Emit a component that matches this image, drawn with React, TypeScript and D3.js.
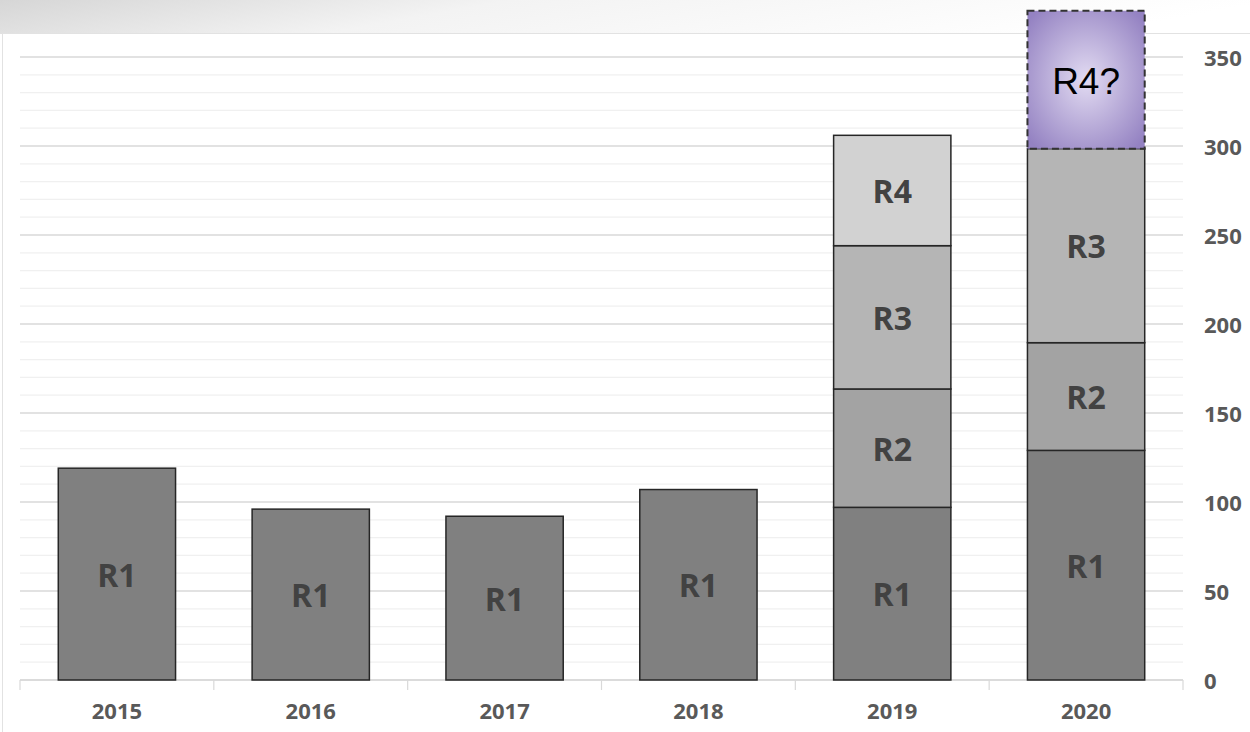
import React from "react";
import * as d3 from "d3";

const years = ["2015", "2016", "2017", "2018", "2019", "2020"];
const seriesKeys = ["R1", "R2", "R3", "R4"];
const r1 = [119, 96, 92, 107, 97, 129];
const r2 = [0, 0, 0, 0, 66.5, 60.5];
const r3 = [0, 0, 0, 0, 80.5, 109];
const r4 = [0, 0, 0, 0, 62, 0];
const forecastYear = "2020";
const forecastLabel = "R4?";
const forecastValue = 77.5;
const yTicks = [0, 50, 100, 150, 200, 250, 300, 350];
const minorStep = 10;

const colors: Record<string, string> = {
  R1: "#808080",
  R2: "#a3a3a3",
  R3: "#b5b5b5",
  R4: "#d2d2d2",
};

export default function App() {
  const W = 1250;
  const H = 732;
  const x0 = 20;
  const x1 = 1183;
  const x = d3.scaleBand<string>().domain(years).range([x0, x1]).paddingInner(0.395).paddingOuter(0.1975);
  const y = d3.scaleLinear().domain([0, 350]).range([680, 57]);

  const rows = years.map((yr, i) => ({ year: yr, R1: r1[i], R2: r2[i], R3: r3[i], R4: r4[i] }));
  const stack = d3.stack<any>().keys(seriesKeys)(rows);

  const minor = d3.range(0, 350 + 0.001, minorStep);
  const step = x.step();
  const boundaries = d3.range(0, years.length + 1).map((i) => x0 + i * step);

  const fcBase = (() => {
    const i = years.indexOf(forecastYear);
    return r1[i] + r2[i] + r3[i] + r4[i];
  })();

  const font = "'Open Sans', 'Liberation Sans', sans-serif";

  return (
    <svg width={W} height={H} style={{ position: "absolute", left: 0, top: 0 }}>
      <defs>
        <linearGradient id="band" x1="0" y1="0" x2="1" y2="0.15">
          <stop offset="0" stopColor="#d6d6d6" />
          <stop offset="0.4" stopColor="#f3f3f3" />
          <stop offset="1" stopColor="#ffffff" />
        </linearGradient>
        <radialGradient id="purple" cx="0.5" cy="0.5" r="0.65">
          <stop offset="0" stopColor="#e2dbf2" />
          <stop offset="1" stopColor="#9482c2" />
        </radialGradient>
      </defs>
      <rect x={0} y={0} width={W} height={H} fill="#ffffff" />
      <rect x={0} y={0} width={W} height={34} fill="url(#band)" />
      <rect x={2.5} y={33.5} width={W} height={H} fill="#ffffff" stroke="#e2e2e2" strokeWidth={1} />

      {minor.map((v) => (
        <line key={"m" + v} x1={x0} x2={x1} y1={y(v)} y2={y(v)}
          stroke={v % 50 === 0 ? "#d9d9d9" : "#f0f0f0"} strokeWidth={v % 50 === 0 ? 1.3 : 1.2} />
      ))}

      <line x1={x0} x2={x1} y1={y(0)} y2={y(0)} stroke="#d9d9d9" strokeWidth={1.5} />
      {boundaries.map((bx, i) => (
        <line key={"t" + i} x1={bx} x2={bx} y1={y(0)} y2={y(0) + 10} stroke="#d9d9d9" strokeWidth={1.2} />
      ))}

      {stack.map((s) => (
        <g key={s.key}>
          {s.map((d: any, i: number) => {
            const h = d[1] - d[0];
            if (h <= 0) return null;
            const bx = x(years[i])!;
            const top = y(d[1]);
            const bot = y(d[0]);
            return (
              <g key={i}>
                <rect x={bx} y={top} width={x.bandwidth()} height={bot - top}
                  fill={colors[s.key]} stroke="#262626" strokeWidth={1.5} />
                <text x={bx + x.bandwidth() / 2} y={(top + bot) / 2} textAnchor="middle"
                  dominantBaseline="central" fontFamily={font} fontWeight={700} fontSize={32} fill="#424242">
                  {s.key}
                </text>
              </g>
            );
          })}
        </g>
      ))}

      {(() => {
        const bx = x(forecastYear)!;
        const top = y(fcBase + forecastValue);
        const bot = y(fcBase);
        return (
          <g>
            <rect x={bx} y={top} width={x.bandwidth()} height={bot - top}
              fill="url(#purple)" stroke="#333333" strokeWidth={2} strokeDasharray="7,4" />
            <text x={bx + x.bandwidth() / 2} y={(top + bot) / 2 + 2} textAnchor="middle"
              dominantBaseline="central" fontFamily="'Liberation Sans', Arial, sans-serif" fontSize={37} fill="#000000">
              {forecastLabel}
            </text>
          </g>
        );
      })()}

      {years.map((yr) => (
        <text key={yr} x={x(yr)! + x.bandwidth() / 2} y={710} textAnchor="middle" dominantBaseline="central"
          fontFamily={font} fontWeight={700} fontSize={22} fill="#595959">
          {yr}
        </text>
      ))}

      {yTicks.map((v) => (
        <text key={v} x={1204} y={y(v)} dominantBaseline="central" fontFamily={font} fontWeight={700}
          fontSize={22} fill="#595959">
          {v}
        </text>
      ))}
    </svg>
  );
}
